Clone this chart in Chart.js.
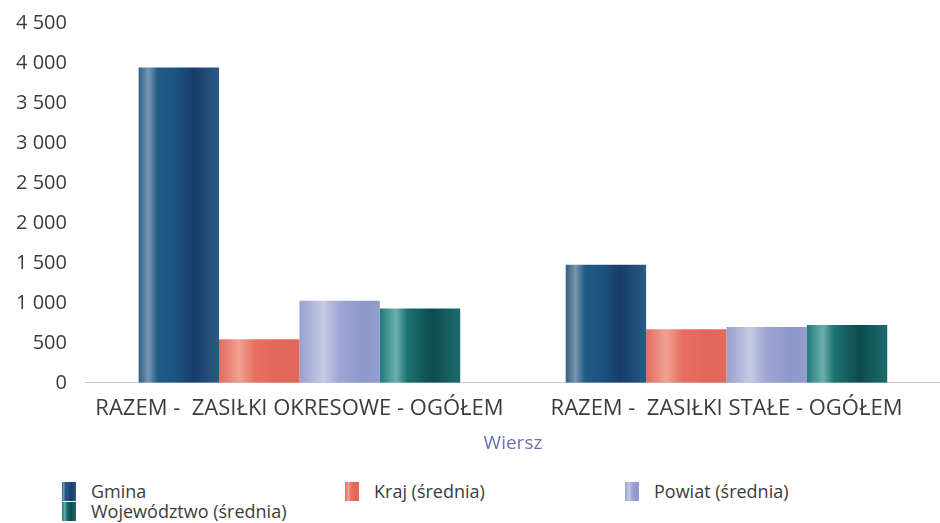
<!DOCTYPE html>
<html lang="pl">
<head>
<meta charset="utf-8">
<title>Zasiłki</title>
<script src="https://cdn.jsdelivr.net/npm/chart.js@4/dist/chart.umd.min.js"></script>
<style>
  html, body { margin: 0; padding: 0; background: #fff; overflow: hidden; }
  .wrap { position: relative; width: 940px; height: 523px; }
  .wrap canvas { position: absolute; left: 0; top: 0; }
  .legend {
    position: absolute; left: 62px; top: 481px;
    display: grid; grid-template-columns: 283px 280px 280px;
    row-gap: 0;
    font-family: "Open Sans", sans-serif; font-size: 18px; color: #3c3c3c;
  }
  .legend .item { display: flex; align-items: center; height: 20px; }
  .legend .sw { width: 14px; height: 19px; margin-right: 15px; }
</style>
</head>
<body>
<div class="wrap">
  <canvas id="chart" width="940" height="459"></canvas>
  <div class="legend" id="legend"></div>
</div>
<script>
var categories = ['RAZEM -  ZASIŁKI OKRESOWE - OGÓŁEM', 'RAZEM -  ZASIŁKI STAŁE - OGÓŁEM'];
var seriesNames = ['Gmina', 'Kraj (średnia)', 'Powiat (średnia)', 'Województwo (średnia)'];
var gmina = [3944, 1478];
var kraj = [544, 669];
var powiat = [1026, 698];
var wojewodztwo = [929, 723];
var yTicks = [0, 500, 1000, 1500, 2000, 2500, 3000, 3500, 4000, 4500];

// cylinder-like shading for each series (left -> right)
var shades = [
  [[0, '#2d5e86'], [0.12, '#7896b0'], [0.24, '#215b85'], [0.45, '#1d5480'], [0.68, '#173c69'], [1, '#2a5b85']],
  [[0, '#e26b5e'], [0.25, '#f1a193'], [0.45, '#e66f61'], [0.75, '#e2665a'], [1, '#e06a5c']],
  [[0, '#98a0cf'], [0.3, '#c6cae5'], [0.5, '#9da5d3'], [0.8, '#8f98cc'], [1, '#949ccd']],
  [[0, '#1f7b7a'], [0.2, '#6cafac'], [0.34, '#1b7272'], [0.66, '#0e4a4e'], [1, '#1d6c6d']]
];
var flatColors = ['#1f4d77', '#e0675a', '#9ba3d0', '#1a6c6b'];

function fmt(v) {
  return String(v).replace(/\B(?=(\d{3})+(?!\d))/g, ' ');
}

var shadePlugin = {
  id: 'shade',
  beforeDatasetsDraw: function (chart) {
    var ctx = chart.ctx;
    chart.data.datasets.forEach(function (ds, i) {
      chart.getDatasetMeta(i).data.forEach(function (bar) {
        var left = bar.x - bar.width / 2;
        var g = ctx.createLinearGradient(left, 0, left + bar.width, 0);
        shades[i].forEach(function (s) { g.addColorStop(s[0], s[1]); });
        // options objects can be shared between bars, so give each its own copy
        bar.options = Object.assign({}, bar.options, { backgroundColor: g });
      });
    });
  }
};

var values = [gmina, kraj, powiat, wojewodztwo];
var datasets = seriesNames.map(function (name, i) {
  return {
    label: name,
    data: values[i],
    backgroundColor: flatColors[i],
    borderWidth: 0,
    categoryPercentage: 0.753,
    barPercentage: 1
  };
});

var chart = new Chart(document.getElementById('chart'), {
  type: 'bar',
  data: { labels: categories, datasets: datasets },
  plugins: [shadePlugin],
  options: {
    responsive: false,
    animation: false,
    layout: { padding: { top: 23, left: -3, right: 0, bottom: 4 } },
    plugins: { legend: { display: false }, tooltip: { enabled: false } },
    scales: {
      x: {
        grid: { display: false, drawTicks: false },
        border: { display: true, color: '#c8c8cc', width: 1, dash: [2, 2] },
        ticks: {
          color: '#3c3c3c', padding: 13, maxRotation: 0, autoSkip: false,
          font: { family: 'Open Sans', size: 22 }
        },
        title: {
          display: true, text: 'Wiersz', color: '#6a6fb5',
          padding: { top: -3, bottom: 0 },
          font: { family: 'Open Sans', size: 19 }
        }
      },
      y: {
        min: 0,
        max: 4500,
        afterBuildTicks: function (scale) {
          scale.ticks = yTicks.map(function (v) { return { value: v }; });
        },
        afterFit: function (scale) {
          // let layout.padding alone decide where the plot starts at the top
          scale.paddingTop = 0;
          scale.paddingBottom = 0;
        },
        grid: { display: false, drawTicks: false },
        border: { display: false },
        ticks: {
          color: '#3c3c3c', padding: 19,
          font: { family: 'Open Sans', size: 20 },
          callback: function (v) { return fmt(v); }
        }
      }
    }
  }
});

var legendEl = document.getElementById('legend');
chart.data.datasets.forEach(function (ds, i) {
  var item = document.createElement('div');
  item.className = 'item';
  var sw = document.createElement('span');
  sw.className = 'sw';
  sw.style.background = 'linear-gradient(to right, ' + shades[i].map(function (s) {
    return s[1] + ' ' + Math.round(s[0] * 100) + '%';
  }).join(', ') + ')';
  var tx = document.createElement('span');
  tx.textContent = ds.label;
  item.appendChild(sw);
  item.appendChild(tx);
  legendEl.appendChild(item);
});
</script>
</body>
</html>
